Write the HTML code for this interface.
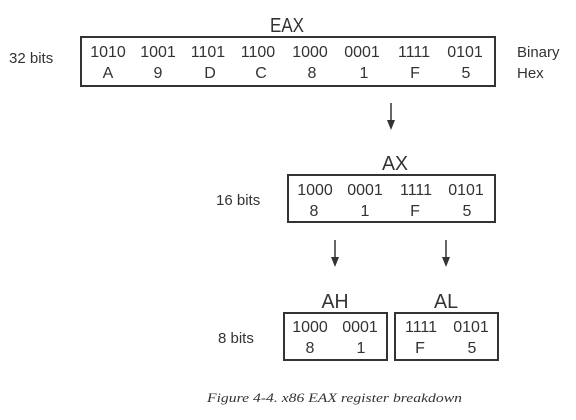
<!DOCTYPE html>
<html><head><meta charset="utf-8"><style>
html,body{margin:0;padding:0;background:#fff;}
svg{display:block;}
text{font-family:"Liberation Sans",sans-serif;fill:#333;}
</style></head><body>
<svg width="576" height="420" viewBox="0 0 576 420" xmlns="http://www.w3.org/2000/svg">
<g fill="none" stroke="#333" stroke-width="2">
<rect x="81" y="37" width="414" height="49"/>
<rect x="288" y="175" width="207" height="47"/>
<rect x="284" y="313" width="103" height="47"/>
<rect x="395" y="313" width="103" height="47"/>
</g>
<g stroke="#333" stroke-width="1.5">
<line x1="391" y1="103" x2="391" y2="122"/>
<line x1="335" y1="240" x2="335" y2="259"/>
<line x1="446" y1="240" x2="446" y2="259"/>
</g>
<g fill="#333">
<polygon points="387,120 395,120 391,130"/>
<polygon points="331,257 339,257 335,267"/>
<polygon points="442,257 450,257 446,267"/>
</g>
<g font-size="20" text-anchor="middle">
<text x="287" y="32" textLength="34" lengthAdjust="spacingAndGlyphs">EAX</text>
<text x="395" y="170" textLength="26" lengthAdjust="spacingAndGlyphs">AX</text>
<text x="335" y="308" textLength="27" lengthAdjust="spacingAndGlyphs">AH</text>
<text x="446" y="308" textLength="24" lengthAdjust="spacingAndGlyphs">AL</text>
</g>
<g font-size="16" text-anchor="middle">
<text x="108" y="57">1010</text><text x="158" y="57">1001</text><text x="208" y="57">1101</text><text x="258" y="57">1100</text>
<text x="310" y="57">1000</text><text x="362" y="57">0001</text><text x="414" y="57">1111</text><text x="465" y="57">0101</text>
<text x="108" y="78">A</text><text x="158" y="78">9</text><text x="210" y="78">D</text><text x="261" y="78">C</text>
<text x="312" y="78">8</text><text x="364" y="78">1</text><text x="415" y="78">F</text><text x="466" y="78">5</text>

<text x="315" y="195">1000</text><text x="365" y="195">0001</text><text x="416" y="195">1111</text><text x="466" y="195">0101</text>
<text x="314" y="216">8</text><text x="365" y="216">1</text><text x="415" y="216">F</text><text x="467" y="216">5</text>

<text x="310" y="332">1000</text><text x="360" y="332">0001</text>
<text x="310" y="353">8</text><text x="361" y="353">1</text>
<text x="421" y="332">1111</text><text x="471" y="332">0101</text>
<text x="420" y="353">F</text><text x="472" y="353">5</text>
</g>
<g font-size="15">
<text x="9" y="63">32 bits</text>
<text x="517" y="57">Binary</text>
<text x="517" y="78">Hex</text>
<text x="216" y="205">16 bits</text>
<text x="218" y="343">8 bits</text>
</g>
<text x="207" y="402" font-size="13" font-style="italic" style="font-family:'Liberation Serif',serif" fill="#222" textLength="255" lengthAdjust="spacingAndGlyphs">Figure 4-4. x86 EAX register breakdown</text>
</svg>
</body></html>
